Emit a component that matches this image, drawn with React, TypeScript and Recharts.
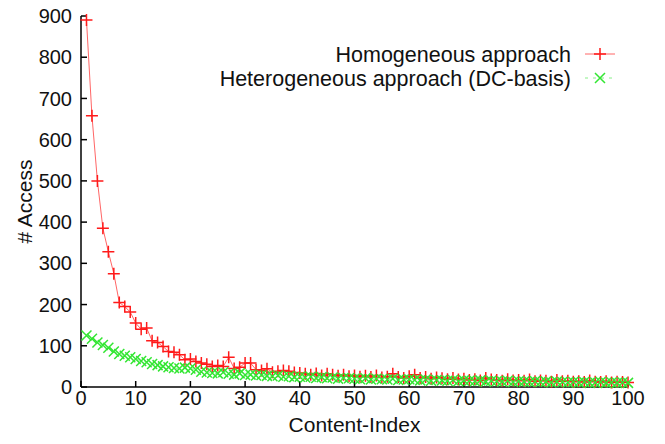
import { LineChart, Line, XAxis, YAxis } from 'recharts';

// content index 1..100
const contentIndex = Array.from({ length: 100 }, (_, i) => i + 1);

const homogeneous = [
  890, 658, 500, 385, 328, 275, 205, 195, 182, 155,
  140, 143, 112, 108, 98, 86, 84, 78, 66, 68,
  62, 58, 55, 50, 52, 50, 72, 45, 48, 58,
  58, 42, 40, 44, 36, 38, 40, 38, 35, 34,
  32, 30, 33, 28, 32, 30, 27, 30, 26, 28,
  25, 27, 24, 28, 23, 25, 32, 24, 22, 26,
  30, 22, 24, 20, 23, 21, 19, 22, 18, 20,
  17, 19, 16, 22, 18, 17, 15, 19, 16, 17,
  15, 18, 14, 16, 15, 13, 17, 14, 15, 13,
  14, 12, 16, 13, 12, 14, 11, 13, 12, 11,
];

const heterogeneous = [
  125, 117, 108, 102, 95, 86, 80, 76, 72, 68,
  63, 60, 56, 53, 50, 48, 46, 45, 47, 45,
  42, 37, 35, 34, 33, 36, 32, 30, 33, 29,
  30, 28, 29, 27, 26, 28, 25, 26, 24, 25,
  23, 25, 22, 24, 21, 23, 20, 22, 21, 20,
  19, 21, 18, 20, 19, 18, 20, 17, 18, 19,
  17, 16, 18, 15, 17, 16, 15, 17, 14, 16,
  15, 14, 16, 13, 15, 14, 13, 15, 12, 14,
  13, 12, 14, 12, 13, 11, 13, 12, 11, 12,
  11, 12, 10, 11, 12, 10, 11, 10, 11, 10,
];

const seriesNames = ['Homogeneous approach', 'Heterogeneous approach (DC-basis)'];

const xTicks = [0, 10, 20, 30, 40, 50, 60, 70, 80, 90, 100];
const yTicks = [0, 100, 200, 300, 400, 500, 600, 700, 800, 900];

const data = contentIndex.map((x, i) => ({ x, homo: homogeneous[i], hetero: heterogeneous[i] }));

const FONT = '"Liberation Sans", Arial, Helvetica, sans-serif';
const RED = '#ff1a1a';
const GREEN = '#33e633';

const PlusDot = (props: any) => {
  const { cx, cy } = props;
  if (cx == null || cy == null) return null;
  return (
    <path
      d={`M${cx - 6},${cy}H${cx + 6}M${cx},${cy - 6}V${cy + 6}`}
      stroke={RED}
      strokeWidth={1.5}
      fill="none"
    />
  );
};

const CrossDot = (props: any) => {
  const { cx, cy } = props;
  if (cx == null || cy == null) return null;
  return (
    <path
      d={`M${cx - 5},${cy - 5}L${cx + 5},${cy + 5}M${cx - 5},${cy + 5}L${cx + 5},${cy - 5}`}
      stroke={GREEN}
      strokeWidth={1.5}
      fill="none"
    />
  );
};

// gnuplot style key: text right aligned, line sample + marker on the right
const Key = () => (
  <svg
    width={665}
    height={100}
    style={{ position: 'absolute', left: 0, top: 0, pointerEvents: 'none' }}
  >
    {seriesNames.map((name, i) => {
      const cy = 54 + i * 24;
      const isHomo = i === 0;
      return (
        <g key={name}>
          <text x={571} y={cy + 7.5} textAnchor="end" fontSize={21.5} fontFamily={FONT} fill="#111">
            {name}
          </text>
          <line
            x1={585}
            x2={615}
            y1={cy}
            y2={cy}
            stroke={isHomo ? '#ff6666' : '#88ee88'}
            strokeWidth={1}
            strokeDasharray={isHomo ? undefined : '3 5'}
          />
          {isHomo ? <PlusDot cx={600} cy={cy} /> : <CrossDot cx={600} cy={cy} />}
        </g>
      );
    })}
  </svg>
);

export default function App() {
  return (
    <div style={{ position: 'absolute', left: 0, top: 0, width: 665, height: 444, background: '#fff' }}>
      <LineChart
        width={665}
        height={444}
        data={data}
        margin={{ top: 16, right: 37, left: 0, bottom: 0 }}
      >
        <XAxis
          dataKey="x"
          type="number"
          domain={[0, 100]}
          ticks={xTicks}
          interval={0}
          height={57}
          tickSize={-6}
          tickMargin={10}
          stroke="#000"
          strokeWidth={1.5}
          tick={{ fill: '#111', fontSize: 20, fontFamily: FONT }}
          label={{
            value: 'Content-Index',
            position: 'insideBottom',
            offset: 12,
            style: { fill: '#111', fontSize: 21, fontFamily: FONT },
          }}
        />
        <XAxis
          xAxisId="top"
          orientation="top"
          dataKey="x"
          type="number"
          domain={[0, 100]}
          allowDataOverflow
          ticks={xTicks}
          height={0}
          tickSize={-6}
          tick={false}
          stroke="#000"
          strokeWidth={1.5}
        />
        <YAxis
          type="number"
          domain={[0, 900]}
          ticks={yTicks}
          interval={0}
          width={81}
          tickSize={-6}
          tickMargin={15}
          stroke="#000"
          strokeWidth={1.5}
          tick={{ fill: '#111', fontSize: 20, fontFamily: FONT }}
          label={{
            value: '# Access',
            angle: -90,
            position: 'insideLeft',
            offset: 25,
            style: { textAnchor: 'middle', fill: '#111', fontSize: 21, fontFamily: FONT },
          }}
        />
        <YAxis
          yAxisId="right"
          orientation="right"
          type="number"
          domain={[0, 900]}
          allowDataOverflow
          ticks={yTicks}
          width={0}
          tickSize={-6}
          tick={false}
          stroke="#000"
          strokeWidth={1.5}
        />
        <Line
          dataKey="homo"
          name={seriesNames[0]}
          stroke="#ff6666"
          strokeWidth={1}
          dot={<PlusDot />}
          activeDot={false}
          isAnimationActive={false}
        />
        <Line
          dataKey="hetero"
          name={seriesNames[1]}
          stroke="#88ee88"
          strokeWidth={1}
          strokeDasharray="3 5"
          dot={<CrossDot />}
          activeDot={false}
          isAnimationActive={false}
        />
      </LineChart>
      <Key />
    </div>
  );
}
